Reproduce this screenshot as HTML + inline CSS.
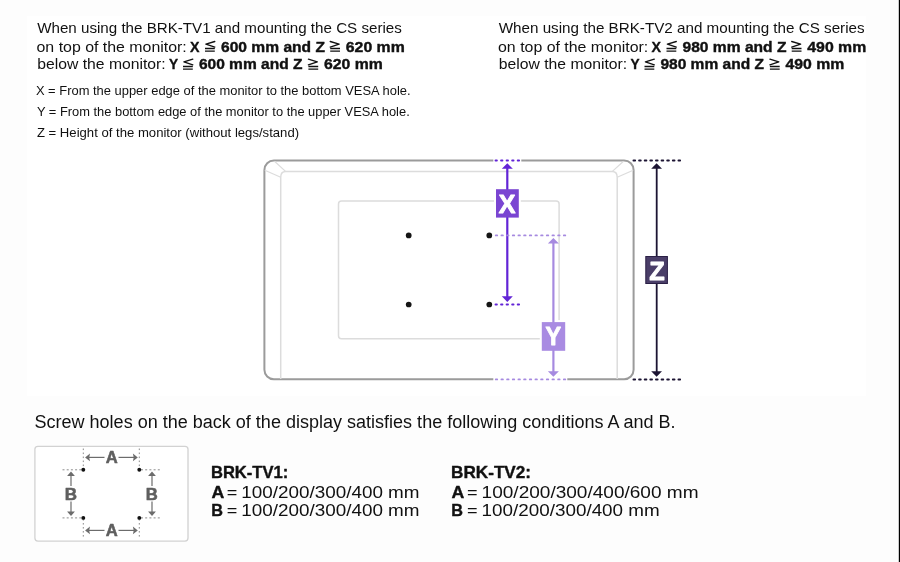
<!DOCTYPE html>
<html><head><meta charset="utf-8"><style>
html,body{margin:0;padding:0;width:900px;height:562px;overflow:hidden;background:#fdfdfd;}
</style></head><body><svg width="900" height="562" viewBox="0 0 900 562" style="position:absolute;left:0;top:0;will-change:transform;font-family:'Liberation Sans', sans-serif"><rect x="27" y="16" width="839" height="380" fill="#fff"/><rect x="264.4" y="160.5" width="369.2" height="218.8" rx="9.5" fill="#fff" stroke="#9b9b9b" stroke-width="2"/><path d="M280.7,379 V177.3 Q280.7,171.6 285.8,171.6 H612.1 Q617.2,171.6 617.2,177.3 V379" fill="none" stroke="#dcdcdc" stroke-width="1.5"/><path d="M274.5,161.3 L285.8,171.6 M264.8,170.2 L280.7,177.3 M623.5,161.3 L612.1,171.6 M633.2,170.2 L617.2,177.3" fill="none" stroke="#dcdcdc" stroke-width="1.2"/><rect x="338.5" y="200.9" width="220.6" height="137.9" rx="3" fill="none" stroke="#dcdcdc" stroke-width="1.5"/><circle cx="408.7" cy="235.4" r="2.85" fill="#151515"/><circle cx="408.7" cy="304.5" r="2.85" fill="#151515"/><circle cx="489.3" cy="235.4" r="2.85" fill="#151515"/><circle cx="489.3" cy="304.5" r="2.85" fill="#151515"/><rect x="493.3" y="158" width="28" height="5" fill="#ffffff"/><rect x="493.3" y="377" width="74" height="5" fill="#ffffff"/><line x1="495.5" y1="160.5" x2="519.3" y2="160.5" stroke="#6224d6" stroke-width="1.9" stroke-dasharray="1.4 4.15" stroke-linecap="round"/><line x1="495.5" y1="304.5" x2="519.3" y2="304.5" stroke="#6224d6" stroke-width="1.9" stroke-dasharray="1.4 4.15" stroke-linecap="round"/><rect x="494" y="187.2" width="26.8" height="32.4" fill="#ffffff"/><line x1="507.3" y1="168" x2="507.3" y2="297" stroke="#6224d6" stroke-width="2.2"/><path d="M507.3,163.2 L512.8,168.8 L501.8,168.8Z" fill="#6224d6"/><path d="M507.3,302 L512.8,296.3 L501.8,296.3Z" fill="#6224d6"/><rect x="496" y="189.2" width="22.8" height="28.4" fill="#7a45d2"/><line x1="495.8" y1="235.4" x2="565.3" y2="235.4" stroke="#a68ae0" stroke-width="1.9" stroke-dasharray="1.4 4.27" stroke-linecap="round"/><line x1="495.8" y1="379.4" x2="565.3" y2="379.4" stroke="#a68ae0" stroke-width="1.9" stroke-dasharray="1.4 4.27" stroke-linecap="round"/><rect x="539.8" y="320.1" width="27.4" height="32.7" fill="#ffffff"/><line x1="553.4" y1="243" x2="553.4" y2="372" stroke="#a68ae0" stroke-width="2.2"/><path d="M553.4,238 L558.9,243.5 L547.9,243.5Z" fill="#a68ae0"/><path d="M553.4,376.8 L558.9,371.2 L547.9,371.2Z" fill="#a68ae0"/><rect x="541.8" y="322.1" width="23.4" height="28.7" fill="#a98be2"/><line x1="633.45" y1="160.5" x2="680.3" y2="160.5" stroke="#1c1433" stroke-width="1.9" stroke-dasharray="1.7 3.925" stroke-linecap="round"/><line x1="633.45" y1="379.5" x2="680.3" y2="379.5" stroke="#1c1433" stroke-width="1.9" stroke-dasharray="1.7 3.925" stroke-linecap="round"/><line x1="656.7" y1="168" x2="656.7" y2="372" stroke="#1c1433" stroke-width="1.8"/><path d="M656.6,163.3 L662,168.8 L651.2,168.8Z" fill="#1c1433"/><path d="M656.6,376.7 L662,371.2 L651.2,371.2Z" fill="#1c1433"/><rect x="645.8" y="256.5" width="21.6" height="27" fill="#4a3e68" stroke="#2a1f45" stroke-width="1"/><rect x="34.9" y="446.3" width="153.1" height="94.8" rx="3" fill="#fff" stroke="#d2d2d2" stroke-width="1.3"/><line x1="83.3" y1="448.5" x2="83.3" y2="469" stroke="#8c8c8c" stroke-width="1" stroke-dasharray="1.6 2.4"/><line x1="83.3" y1="519" x2="83.3" y2="539" stroke="#8c8c8c" stroke-width="1" stroke-dasharray="1.6 2.4"/><line x1="139.3" y1="448.5" x2="139.3" y2="469" stroke="#8c8c8c" stroke-width="1" stroke-dasharray="1.6 2.4"/><line x1="139.3" y1="519" x2="139.3" y2="539" stroke="#8c8c8c" stroke-width="1" stroke-dasharray="1.6 2.4"/><line x1="62.5" y1="469.8" x2="82" y2="469.8" stroke="#8c8c8c" stroke-width="1" stroke-dasharray="2 2.2"/><line x1="141" y1="469.8" x2="161" y2="469.8" stroke="#8c8c8c" stroke-width="1" stroke-dasharray="2 2.2"/><line x1="62.5" y1="517.9" x2="82" y2="517.9" stroke="#8c8c8c" stroke-width="1" stroke-dasharray="2 2.2"/><line x1="141" y1="517.9" x2="161" y2="517.9" stroke="#8c8c8c" stroke-width="1" stroke-dasharray="2 2.2"/><circle cx="83.3" cy="469.8" r="1.95" fill="#111"/><circle cx="83.3" cy="517.9" r="1.95" fill="#111"/><circle cx="139.3" cy="469.8" r="1.95" fill="#111"/><circle cx="139.3" cy="517.9" r="1.95" fill="#111"/><line x1="88" y1="457.4" x2="104.5" y2="457.4" stroke="#6c6c6c" stroke-width="1.2"/><line x1="118.5" y1="457.4" x2="135" y2="457.4" stroke="#6c6c6c" stroke-width="1.2"/><path d="M85.1,457.4 L90,453.59999999999997 L89.2,457.4 L90,461.2Z" fill="#6c6c6c"/><path d="M137.8,457.4 L132.9,453.59999999999997 L133.7,457.4 L132.9,461.2Z" fill="#6c6c6c"/><line x1="88" y1="530.4" x2="104.5" y2="530.4" stroke="#6c6c6c" stroke-width="1.2"/><line x1="118.5" y1="530.4" x2="135" y2="530.4" stroke="#6c6c6c" stroke-width="1.2"/><path d="M85.1,530.4 L90,526.6 L89.2,530.4 L90,534.1999999999999Z" fill="#6c6c6c"/><path d="M137.8,530.4 L132.9,526.6 L133.7,530.4 L132.9,534.1999999999999Z" fill="#6c6c6c"/><line x1="71" y1="475" x2="71" y2="486" stroke="#6c6c6c" stroke-width="1.2"/><line x1="71" y1="501.5" x2="71" y2="512.5" stroke="#6c6c6c" stroke-width="1.2"/><path d="M71,471.5 L74.9,476 L67.1,476Z" fill="#6c6c6c"/><path d="M71,516 L74.9,511.5 L67.1,511.5Z" fill="#6c6c6c"/><line x1="152" y1="475" x2="152" y2="486" stroke="#6c6c6c" stroke-width="1.2"/><line x1="152" y1="501.5" x2="152" y2="512.5" stroke="#6c6c6c" stroke-width="1.2"/><path d="M152,471.5 L155.9,476 L148.1,476Z" fill="#6c6c6c"/><path d="M152,516 L155.9,511.5 L148.1,511.5Z" fill="#6c6c6c"/><path d="M214.80,41.50 L205.90,44.20 L214.80,47.10" fill="none" stroke="#111" stroke-width="1.35" stroke-linejoin="round" stroke-linecap="round"/><path d="M205.00,48.50H214.80M205.00,51.15H214.80" stroke="#111" stroke-width="1.3"/><path d="M330.20,41.50 L339.10,44.20 L330.20,47.10" fill="none" stroke="#111" stroke-width="1.35" stroke-linejoin="round" stroke-linecap="round"/><path d="M330.20,48.50H340.00M330.20,51.15H340.00" stroke="#111" stroke-width="1.3"/><path d="M192.80,59.20 L183.90,61.90 L192.80,64.80" fill="none" stroke="#111" stroke-width="1.35" stroke-linejoin="round" stroke-linecap="round"/><path d="M183.00,66.50H192.80M183.00,69.15H192.80" stroke="#111" stroke-width="1.3"/><path d="M308.40,59.20 L317.30,61.90 L308.40,64.80" fill="none" stroke="#111" stroke-width="1.35" stroke-linejoin="round" stroke-linecap="round"/><path d="M308.40,66.50H318.20M308.40,69.15H318.20" stroke="#111" stroke-width="1.3"/><path d="M676.30,41.50 L667.40,44.20 L676.30,47.10" fill="none" stroke="#111" stroke-width="1.35" stroke-linejoin="round" stroke-linecap="round"/><path d="M666.50,48.50H676.30M666.50,51.15H676.30" stroke="#111" stroke-width="1.3"/><path d="M791.70,41.50 L800.60,44.20 L791.70,47.10" fill="none" stroke="#111" stroke-width="1.35" stroke-linejoin="round" stroke-linecap="round"/><path d="M791.70,48.50H801.50M791.70,51.15H801.50" stroke="#111" stroke-width="1.3"/><path d="M654.30,59.20 L645.40,61.90 L654.30,64.80" fill="none" stroke="#111" stroke-width="1.35" stroke-linejoin="round" stroke-linecap="round"/><path d="M644.50,66.50H654.30M644.50,69.15H654.30" stroke="#111" stroke-width="1.3"/><path d="M769.90,59.20 L778.80,61.90 L769.90,64.80" fill="none" stroke="#111" stroke-width="1.35" stroke-linejoin="round" stroke-linecap="round"/><path d="M769.90,66.50H779.70M769.90,69.15H779.70" stroke="#111" stroke-width="1.3"/><text x="37.20" y="33.3" font-size="15" textLength="364.63" lengthAdjust="spacingAndGlyphs" fill="#111">When using the BRK-TV1 and mounting the CS series</text><text x="36.54" y="51.7" font-size="15" textLength="150.23" lengthAdjust="spacingAndGlyphs" fill="#111">on top of the monitor:</text><text x="190.10" y="51.7" font-size="15" font-weight="bold" stroke="#111" stroke-width="0.4" stroke-linejoin="round" textLength="9.51" lengthAdjust="spacingAndGlyphs" fill="#111">X</text><text x="221.00" y="51.7" font-size="15" font-weight="bold" stroke="#111" stroke-width="0.4" stroke-linejoin="round" textLength="103.95" lengthAdjust="spacingAndGlyphs" fill="#111">600 mm and Z</text><text x="345.80" y="51.7" font-size="15" font-weight="bold" stroke="#111" stroke-width="0.4" stroke-linejoin="round" textLength="58.92" lengthAdjust="spacingAndGlyphs" fill="#111">620 mm</text><text x="37.25" y="69.4" font-size="15" textLength="128.40" lengthAdjust="spacingAndGlyphs" fill="#111">below the monitor:</text><text x="169.10" y="69.4" font-size="15" font-weight="bold" stroke="#111" stroke-width="0.4" stroke-linejoin="round" textLength="9.11" lengthAdjust="spacingAndGlyphs" fill="#111">Y</text><text x="198.90" y="69.4" font-size="15" font-weight="bold" stroke="#111" stroke-width="0.4" stroke-linejoin="round" textLength="103.55" lengthAdjust="spacingAndGlyphs" fill="#111">600 mm and Z</text><text x="324.00" y="69.4" font-size="15" font-weight="bold" stroke="#111" stroke-width="0.4" stroke-linejoin="round" textLength="58.82" lengthAdjust="spacingAndGlyphs" fill="#111">620 mm</text><text x="498.70" y="33.3" font-size="15" textLength="365.93" lengthAdjust="spacingAndGlyphs" fill="#111">When using the BRK-TV2 and mounting the CS series</text><text x="498.04" y="51.7" font-size="15" textLength="150.23" lengthAdjust="spacingAndGlyphs" fill="#111">on top of the monitor:</text><text x="651.60" y="51.7" font-size="15" font-weight="bold" stroke="#111" stroke-width="0.4" stroke-linejoin="round" textLength="9.51" lengthAdjust="spacingAndGlyphs" fill="#111">X</text><text x="682.50" y="51.7" font-size="15" font-weight="bold" stroke="#111" stroke-width="0.4" stroke-linejoin="round" textLength="103.95" lengthAdjust="spacingAndGlyphs" fill="#111">980 mm and Z</text><text x="807.30" y="51.7" font-size="15" font-weight="bold" stroke="#111" stroke-width="0.4" stroke-linejoin="round" textLength="58.92" lengthAdjust="spacingAndGlyphs" fill="#111">490 mm</text><text x="498.75" y="69.4" font-size="15" textLength="128.40" lengthAdjust="spacingAndGlyphs" fill="#111">below the monitor:</text><text x="630.60" y="69.4" font-size="15" font-weight="bold" stroke="#111" stroke-width="0.4" stroke-linejoin="round" textLength="9.11" lengthAdjust="spacingAndGlyphs" fill="#111">Y</text><text x="660.40" y="69.4" font-size="15" font-weight="bold" stroke="#111" stroke-width="0.4" stroke-linejoin="round" textLength="103.55" lengthAdjust="spacingAndGlyphs" fill="#111">980 mm and Z</text><text x="785.50" y="69.4" font-size="15" font-weight="bold" stroke="#111" stroke-width="0.4" stroke-linejoin="round" textLength="58.82" lengthAdjust="spacingAndGlyphs" fill="#111">490 mm</text><text x="35.91" y="94.8" font-size="13" textLength="374.66" lengthAdjust="spacingAndGlyphs" fill="#111">X = From the upper edge of the monitor to the bottom VESA hole.</text><text x="36.90" y="115.8" font-size="13" textLength="372.83" lengthAdjust="spacingAndGlyphs" fill="#111">Y = From the bottom edge of the monitor to the upper VESA hole.</text><text x="36.90" y="136.8" font-size="13" textLength="262.17" lengthAdjust="spacingAndGlyphs" fill="#111">Z = Height of the monitor (without legs/stand)</text><text x="34.50" y="428.1" font-size="18" textLength="641.09" lengthAdjust="spacingAndGlyphs" fill="#111">Screw holes on the back of the display satisfies the following conditions A and B.</text><text x="210.93" y="478.2" font-size="17" font-weight="bold" stroke="#111" stroke-width="0.4" stroke-linejoin="round" textLength="77.28" lengthAdjust="spacingAndGlyphs" fill="#111">BRK-TV1:</text><text x="211.40" y="497.6" font-size="17" font-weight="bold" stroke="#111" stroke-width="0.4" stroke-linejoin="round" textLength="12.79" lengthAdjust="spacingAndGlyphs" fill="#111">A</text><text x="226.74" y="497.6" font-size="17" textLength="10.56" lengthAdjust="spacingAndGlyphs" fill="#111">=</text><text x="211.15" y="516.1" font-size="17" font-weight="bold" stroke="#111" stroke-width="0.4" stroke-linejoin="round" textLength="11.72" lengthAdjust="spacingAndGlyphs" fill="#111">B</text><text x="226.74" y="516.1" font-size="17" textLength="10.56" lengthAdjust="spacingAndGlyphs" fill="#111">=</text><text x="451.09" y="478.2" font-size="17" font-weight="bold" stroke="#111" stroke-width="0.4" stroke-linejoin="round" textLength="79.96" lengthAdjust="spacingAndGlyphs" fill="#111">BRK-TV2:</text><text x="451.60" y="497.6" font-size="17" font-weight="bold" stroke="#111" stroke-width="0.4" stroke-linejoin="round" textLength="12.79" lengthAdjust="spacingAndGlyphs" fill="#111">A</text><text x="466.94" y="497.6" font-size="17" textLength="10.56" lengthAdjust="spacingAndGlyphs" fill="#111">=</text><text x="451.35" y="516.1" font-size="17" font-weight="bold" stroke="#111" stroke-width="0.4" stroke-linejoin="round" textLength="11.72" lengthAdjust="spacingAndGlyphs" fill="#111">B</text><text x="466.94" y="516.1" font-size="17" textLength="10.56" lengthAdjust="spacingAndGlyphs" fill="#111">=</text><text x="241.29" y="497.6" font-size="17" textLength="178.25" lengthAdjust="spacingAndGlyphs" fill="#111">100/200/300/400 mm</text><text x="241.29" y="516.1" font-size="17" textLength="178.25" lengthAdjust="spacingAndGlyphs" fill="#111">100/200/300/400 mm</text><text x="481.58" y="497.6" font-size="17" textLength="216.98" lengthAdjust="spacingAndGlyphs" fill="#111">100/200/300/400/600 mm</text><text x="481.59" y="516.1" font-size="17" textLength="178.15" lengthAdjust="spacingAndGlyphs" fill="#111">100/200/300/400 mm</text><text x="498.80" y="212.8" font-size="25" font-weight="bold" stroke="#fff" stroke-width="0.9" stroke-linejoin="round" textLength="16.69" lengthAdjust="spacingAndGlyphs" fill="#fff">X</text><text x="545.60" y="345.3" font-size="25" font-weight="bold" stroke="#fff" stroke-width="0.9" stroke-linejoin="round" textLength="15.61" lengthAdjust="spacingAndGlyphs" fill="#fff">Y</text><text x="649.20" y="279.5" font-size="25" font-weight="bold" stroke="#fff" stroke-width="0.9" stroke-linejoin="round" textLength="15.48" lengthAdjust="spacingAndGlyphs" fill="#fff">Z</text><text x="105.70" y="463.0" font-size="16" font-weight="bold" stroke="#5f5f5f" stroke-width="0.55" stroke-linejoin="round" textLength="11.98" lengthAdjust="spacingAndGlyphs" fill="#5f5f5f">A</text><text x="105.70" y="536.0" font-size="16" font-weight="bold" stroke="#5f5f5f" stroke-width="0.55" stroke-linejoin="round" textLength="11.98" lengthAdjust="spacingAndGlyphs" fill="#5f5f5f">A</text><text x="64.74" y="499.8" font-size="16" font-weight="bold" stroke="#5f5f5f" stroke-width="0.55" stroke-linejoin="round" textLength="12.26" lengthAdjust="spacingAndGlyphs" fill="#5f5f5f">B</text><text x="145.86" y="499.8" font-size="16" font-weight="bold" stroke="#5f5f5f" stroke-width="0.55" stroke-linejoin="round" textLength="12.03" lengthAdjust="spacingAndGlyphs" fill="#5f5f5f">B</text><rect x="898.8" y="0" width="1.2" height="562" fill="#000"/></svg></body></html>
